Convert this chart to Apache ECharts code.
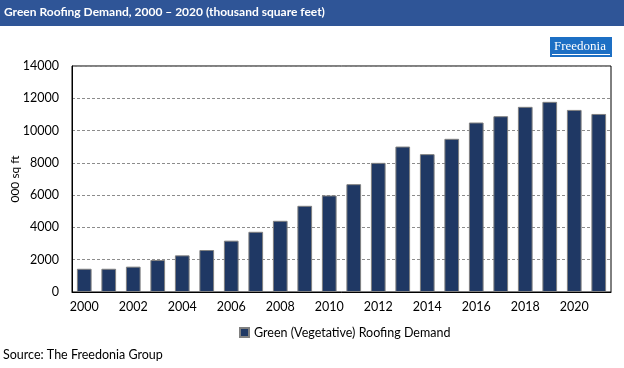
<!DOCTYPE html>
<html>
<head>
<meta charset="utf-8">
<script src="https://cdn.jsdelivr.net/npm/echarts@6/dist/echarts.min.js"></script>
<style>
html,body{margin:0;padding:0;background:#fff;}
#chart{width:624px;height:368px;}
</style>
</head>
<body>
<div id="chart"></div>
<script>
const years = ['2000','2001','2002','2003','2004','2005','2006','2007','2008','2009','2010',
  '2011','2012','2013','2014','2015','2016','2017','2018','2019','2020','2021'];
const demand = [1440,1440,1570,1980,2270,2600,3180,3730,4410,5340,5980,
  6680,8000,9010,8540,9490,10500,10890,11470,11780,11280,11030];
const yTicks = {min:0, max:14000, interval:2000};
const seriesName = 'Green (Vegetative) Roofing Demand';
const titleText = 'Green Roofing Demand, 2000 \u2013 2020 (thousand square feet)';
const sourceText = 'Source: The Freedonia Group';
const yAxisName = '000 sq ft';

const FONT = 'Lato';
const chart = echarts.init(document.getElementById('chart'), null, {renderer:'canvas'});
chart.setOption({
  animation:false,
  backgroundColor:'#fff',
  textStyle:{fontFamily:FONT},
  grid:{left:72, right:13, top:66, bottom:76, show:true, borderColor:'#000', borderWidth:1,
    containLabel:false, outerBoundsMode:'none'},
  legend:{
    data:[seriesName], left:234, top:321, itemWidth:9, itemHeight:9, icon:'rect',
    textStyle:{fontFamily:FONT, fontSize:12.5, color:'#000'}
  },
  xAxis:{
    type:'category', data:years,
    axisLine:{show:true, lineStyle:{color:'#000'}},
    axisTick:{show:false},
    axisLabel:{interval:1, color:'#000', fontSize:12.5, fontFamily:FONT, margin:8}
  },
  yAxis:{
    type:'value', min:yTicks.min, max:yTicks.max, interval:yTicks.interval,
    name:yAxisName, nameLocation:'middle', nameGap:51, nameRotate:90, nameMoveOverlap:false,
    nameTextStyle:{color:'#000', fontSize:12, fontFamily:FONT},
    axisLine:{show:true, lineStyle:{color:'#000'}},
    axisTick:{show:false},
    axisLabel:{color:'#000', fontSize:12.5, fontFamily:FONT, margin:13, formatter:function(v){return String(v);}},
    splitLine:{show:true, lineStyle:{color:'#8c8c8c', type:[3,2], width:1}}
  },
  series:[{
    name:seriesName, type:'bar', data:demand, barWidth:'60%',
    itemStyle:{color:'#1F3864', borderColor:'#808080', borderWidth:1}
  }],
  graphic:[
    {type:'rect', left:0, top:0, shape:{width:624, height:26}, style:{fill:'#2F5597'}, silent:true},
    {type:'text', left:4, top:6, style:{text:titleText, fill:'#fff', font:'bold 12px '+FONT}},
    {type:'group', left:550, top:37, children:[
      {type:'rect', shape:{x:0, y:0, width:62, height:20}, style:{fill:'#1D6FC4'}},
      {type:'text', x:4, y:3, style:{text:'Freedonia', fill:'#fff', font:'13px "Liberation Serif"'}},
      {type:'rect', shape:{x:2, y:17, width:58, height:1}, style:{fill:'#fff'}}
    ]},
    {type:'text', left:3, top:348, style:{text:sourceText, fill:'#000', font:'12.5px '+FONT}}
  ]
});
</script>
</body>
</html>
